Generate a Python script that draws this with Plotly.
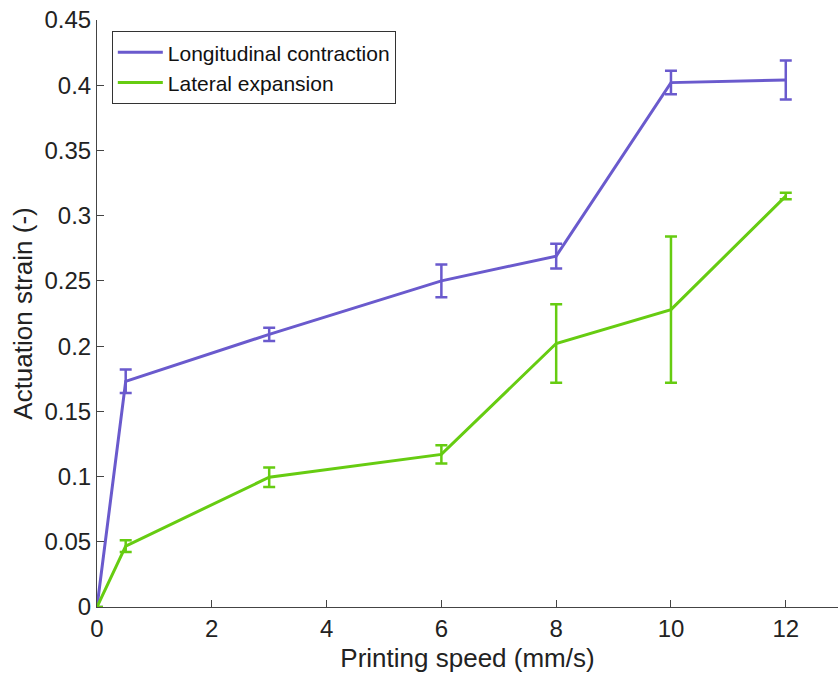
import plotly.graph_objects as go

speed = [0, 0.5, 3, 6, 8, 10, 12]
longitudinal = [0, 0.173, 0.209, 0.250, 0.269, 0.402, 0.404]
longitudinal_err = [0, 0.009, 0.005, 0.0125, 0.0095, 0.009, 0.015]
lateral = [0, 0.0467, 0.0995, 0.117, 0.202, 0.228, 0.315]
lateral_err = [0, 0.0045, 0.0075, 0.007, 0.030, 0.056, 0.0025]

purple = "#6A5ACD"
green = "#66CC11"

fig = go.Figure()
fig.add_trace(go.Scatter(
    x=speed, y=longitudinal, mode="lines", name="Longitudinal contraction",
    line=dict(color=purple, width=3),
    error_y=dict(type="data", array=longitudinal_err, color=purple, thickness=2.5, width=6),
))
fig.add_trace(go.Scatter(
    x=speed, y=lateral, mode="lines", name="Lateral expansion",
    line=dict(color=green, width=3),
    error_y=dict(type="data", array=lateral_err, color=green, thickness=2.5, width=6),
))

font = "Liberation Sans, Arial, Helvetica, sans-serif"
fig.update_layout(
    width=838, height=674,
    margin=dict(l=97, r=0, t=20, b=67),
    paper_bgcolor="white", plot_bgcolor="white",
    font=dict(family=font, color="#222222"),
    showlegend=True,
    legend=dict(x=0.02, y=0.981, xanchor="left", yanchor="top",
                bordercolor="#333333", borderwidth=1, bgcolor="white",
                font=dict(size=21, family=font, color="#111111"),
                tracegroupgap=0, itemwidth=45),
    xaxis=dict(range=[0, 12.91], tickvals=[0, 2, 4, 6, 8, 10, 12],
               ticks="inside", ticklen=7, tickcolor="#444444",
               showline=True, linecolor="#444444", linewidth=1,
               showgrid=False, zeroline=False,
               tickfont=dict(size=24, color="#222222"),
               title=dict(text="Printing speed (mm/s)", font=dict(size=26, color="#222222"), standoff=8)),
    yaxis=dict(range=[0, 0.45], tickvals=[0, 0.05, 0.1, 0.15, 0.2, 0.25, 0.3, 0.35, 0.4, 0.45],
               ticktext=["0", "0.05", "0.1", "0.15", "0.2", "0.25", "0.3", "0.35", "0.4", "0.45"],
               ticks="inside", ticklen=7, tickcolor="#444444",
               showline=True, linecolor="#444444", linewidth=1,
               showgrid=False, zeroline=False,
               tickfont=dict(size=24, color="#222222"),
               title=dict(text="Actuation strain (-)", font=dict(size=26, color="#222222"), standoff=4)),
)

fig.write_html("out.html")
